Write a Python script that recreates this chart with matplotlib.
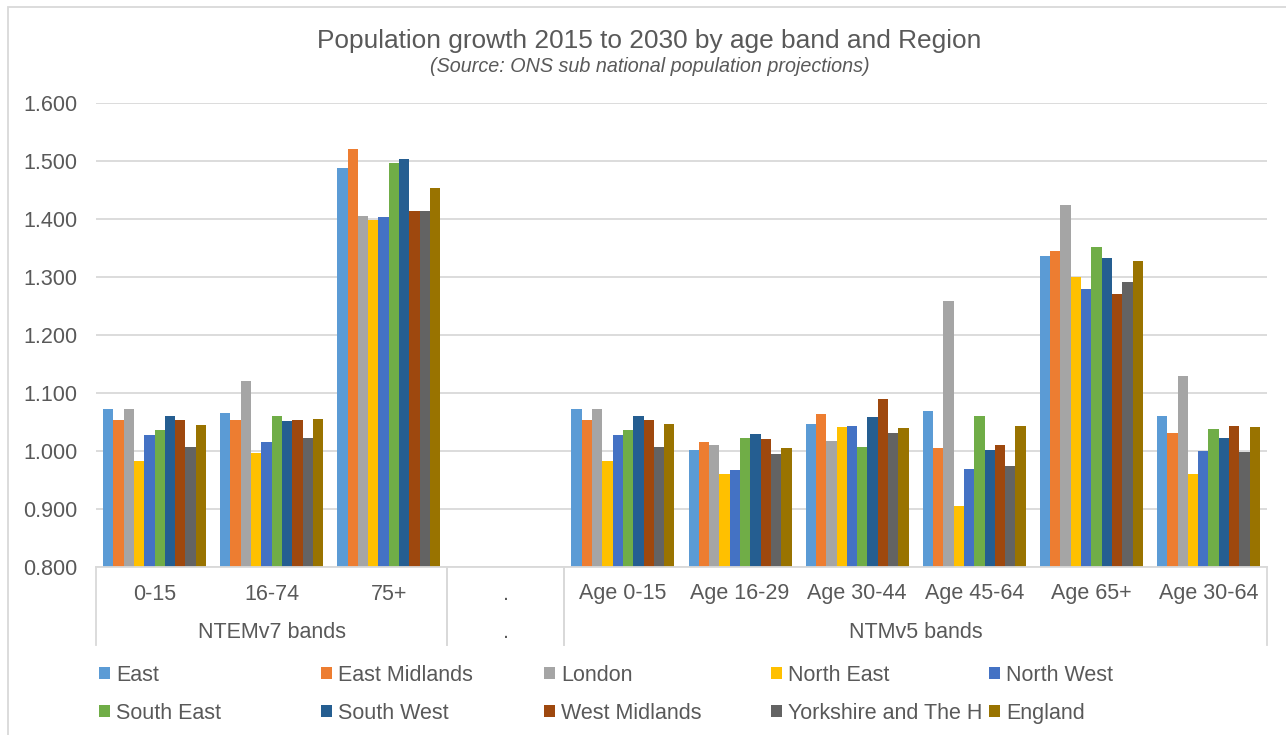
import matplotlib
matplotlib.use('Agg')
from matplotlib import pyplot as plt
from matplotlib.patches import Rectangle
import matplotlib.transforms as mtransforms
import numpy as np

plt.rcParams['font.family'] = ['Liberation Sans', 'DejaVu Sans']

# categories (two-level axis)
categories = ['0-15', '16-74', '75+', '.',
              'Age 0-15', 'Age 16-29', 'Age 30-44', 'Age 45-64', 'Age 65+',
              'Age 30-64']
groups = [('NTEMv7 bands', 0, 2), ('.', 3, 3), ('NTMv5 bands', 4, 9)]

series_names = ['East', 'East Midlands', 'London', 'North East', 'North West',
                'South East', 'South West', 'West Midlands',
                'Yorkshire and The H', 'England']
colors = ['#5B9BD5', '#ED7D31', '#A5A5A5', '#FFC000', '#4472C4',
          '#70AD47', '#255E91', '#9E480E', '#636363', '#997300']

nan = np.nan
east = [1.072, 1.066, 1.488, nan, 1.072, 1.001, 1.047, 1.069, 1.336, 1.060]
east_midlands = [1.053, 1.053, 1.521, nan, 1.053, 1.015, 1.064, 1.005, 1.345, 1.031]
london = [1.072, 1.121, 1.405, nan, 1.072, 1.010, 1.018, 1.258, 1.424, 1.129]
north_east = [0.982, 0.996, 1.399, nan, 0.982, 0.961, 1.041, 0.905, 1.300, 0.960]
north_west = [1.027, 1.016, 1.403, nan, 1.027, 0.967, 1.043, 0.969, 1.280, 1.000]
south_east = [1.036, 1.061, 1.496, nan, 1.036, 1.023, 1.007, 1.061, 1.351, 1.038]
south_west = [1.061, 1.051, 1.503, nan, 1.061, 1.029, 1.058, 1.002, 1.333, 1.023]
west_midlands = [1.053, 1.053, 1.413, nan, 1.053, 1.020, 1.089, 1.010, 1.271, 1.043]
yorkshire = [1.007, 1.023, 1.413, nan, 1.007, 0.994, 1.031, 0.975, 1.291, 0.998]
england = [1.045, 1.056, 1.454, nan, 1.046, 1.005, 1.040, 1.043, 1.327, 1.041]

series = [east, east_midlands, london, north_east, north_west, south_east,
          south_west, west_midlands, yorkshire, england]

text_col = '#595959'
grid_col = '#D9D9D9'
W, H = 1286, 735

fig = plt.figure(figsize=(W / 100, H / 100), dpi=100, facecolor='w')
ax = fig.add_axes([96 / W, 1 - 567 / H, (1267 - 96) / W, (567 - 103) / H])

x = np.arange(len(categories))
nser = len(series)
bw = 0.088
handles = []
for i, (vals, name, c) in enumerate(zip(series, series_names, colors)):
    v = np.array(vals, dtype=float)
    off = (i - (nser - 1) / 2) * bw
    mask = ~np.isnan(v)
    # bars start from the 0.800 axis floor
    b = ax.bar(x[mask] + off, v[mask] - 0.8, bottom=0.8, width=bw,
               color=c, label=name, zorder=3)
    handles.append(b)

ax.set_ylim(0.8, 1.6)
ax.set_xlim(-0.5, len(categories) - 0.5)
ax.set_yticks(np.arange(0.8, 1.61, 0.1))
ax.set_yticklabels([f'{t:.3f}' for t in np.arange(0.8, 1.61, 0.1)])
ax.tick_params(axis='y', length=0, pad=13.5, labelsize=15.5, labelcolor=text_col)
ax.tick_params(axis='x', length=0, labelbottom=False)
ax.grid(axis='y', color=grid_col, linewidth=1.3, zorder=0)
for s in ['top', 'right', 'left']:
    ax.spines[s].set_visible(False)
ax.spines['bottom'].set_color(grid_col)
ax.spines['bottom'].set_linewidth(1.3)
ax.spines['bottom'].set_zorder(4)

# two-level category axis drawn below the plot
trans = mtransforms.blended_transform_factory(ax.transData, ax.transAxes)
ah = 567 - 103
y_line = -(645 - 567) / ah
y_row1 = -(594 - 567) / ah
y_row2 = -(633 - 567) / ah
for i, lab in enumerate(categories):
    ax.text(i, y_row1, lab, transform=trans, ha='center', va='center',
            fontsize=15.5, color=text_col)
for name, g0, g1 in groups:
    ax.text((g0 + g1) / 2, y_row2, name, transform=trans, ha='center',
            va='center', fontsize=15.5, color=text_col)
    for xb in (g0 - 0.5, g1 + 0.5):
        ax.plot([xb, xb], [0, y_line], transform=trans, color=grid_col,
                linewidth=1.3, clip_on=False, zorder=1)

# titles
fig.text(0.505, 1 - 41 / H, 'Population growth 2015 to 2030 by age band and Region',
         ha='center', va='center', fontsize=18.9, color=text_col)
fig.text(0.505, 1 - 67 / H, '(Source: ONS sub national population projections)',
         ha='center', va='center', fontsize=14.2, style='italic', color=text_col)

# legend: five evenly spaced columns, two rows
col_x = [99, 321, 544, 771, 989]
for j, cx in enumerate(col_x):
    leg = fig.legend(handles=[handles[j], handles[j + 5]],
                     labels=[series_names[j], series_names[j + 5]],
                     loc='upper left', bbox_to_anchor=(cx / W, 1 - 665 / H),
                     frameon=False, fontsize=15.5, handlelength=0.5,
                     handleheight=0.5, handletextpad=0.3, labelspacing=0.78,
                     borderaxespad=0, borderpad=0)
    for t in leg.get_texts():
        t.set_color(text_col)

# chart area border
fig.patches.append(Rectangle((8 / W, -0.1), 1.2, 1 - 7 / H + 0.1,
                             transform=fig.transFigure, fill=False,
                             edgecolor=grid_col, linewidth=1.3))

fig.savefig('out.png', dpi=100)
